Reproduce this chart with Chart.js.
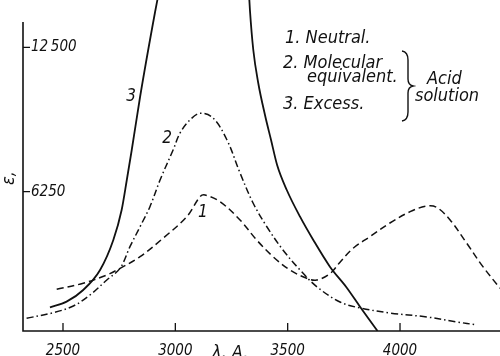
<!DOCTYPE html>
<html>
<head>
<meta charset="utf-8">
<script src="https://cdn.jsdelivr.net/npm/chart.js@4.4.1/dist/chart.umd.min.js"></script>
<style>
  html, body { margin: 0; padding: 0; background: #fff; }
  canvas { display: block; }
</style>
</head>
<body>
<canvas id="chart" width="500" height="356"></canvas>
<script>
// wavelength (A) / extinction values
const neutralL = [2472, 2590, 2695, 2754, 2843, 2945, 3051, 3110, 3132, 3199, 3288, 3362, 3435, 3510, 3585, 3629, 3688, 3733, 3791, 3866, 3955, 4045, 4119, 4163, 4223, 4297, 4369, 4445];
const neutralE = [2026, 2286, 2645, 2935, 3437, 4234, 5169, 6035, 6108, 5818, 5026, 4160, 3437, 2862, 2502, 2429, 2700, 3200, 3800, 4303, 4896, 5386, 5632, 5576, 5026, 4018, 3005, 2069];

const equivL = [2338, 2457, 2546, 2620, 2695, 2754, 2798, 2843, 2887, 2932, 2990, 3021, 3065, 3110, 3168, 3230, 3288, 3346, 3408, 3479, 3555, 3631, 3733, 3822, 3955, 4120, 4254, 4343];
const equivE = [771, 1013, 1303, 1779, 2429, 2935, 3870, 4736, 5602, 6758, 8056, 8792, 9355, 9645, 9442, 8489, 7061, 5762, 4723, 3727, 2862, 2126, 1476, 1217, 1000, 827, 611, 481];

// excess acid: goes off the top of the plate between the two branches
const excessL = [2442, 2516, 2590, 2665, 2724, 2761, 2784, 2806, 2843, 2909, 2925, 3100, 3328, 3332, 3347, 3369, 3399, 3426, 3453, 3496, 3555, 3614, 3688, 3763, 3822, 3900];
const excessE = [1247, 1490, 1996, 2862, 4160, 5459, 6758, 8056, 10351, 13987, 14800, null, 14800, 14117, 12385, 10957, 9572, 8489, 7407, 6325, 5169, 4160, 3005, 2096, 1273, 220];

const xTicks = [2500, 3000, 3500, 4000];
const yTicks = [6250, 12500];

const curveNames = ['1', '2', '3'];
const legendLines = ['1. Neutral.', '2. Molecular', 'equivalent.', '3. Excess.'];
const bracketText = ['Acid', 'solution'];

const pts = (xs, ys) => xs.map((v, i) => ({ x: v, y: ys[i] }));

const FAM = "'DejaVu Sans Condensed', 'DejaVu Sans'";
const ink = '#111';

const deco = {
  id: 'deco',
  afterDraw(chart) {
    const { ctx, chartArea: a, scales: { x, y } } = chart;
    ctx.save();
    ctx.strokeStyle = ink;
    ctx.fillStyle = ink;
    ctx.lineWidth = 1.6;

    // axes
    ctx.beginPath();
    ctx.moveTo(a.left, y.getPixelForValue(13600));
    ctx.lineTo(a.left, a.bottom);
    ctx.lineTo(a.right, a.bottom);
    ctx.stroke();

    // inward ticks
    ctx.lineWidth = 1.3;
    ctx.beginPath();
    xTicks.forEach(v => {
      const px = x.getPixelForValue(v);
      ctx.moveTo(px, a.bottom);
      ctx.lineTo(px, a.bottom - 8);
    });
    yTicks.forEach(v => {
      const py = y.getPixelForValue(v);
      ctx.moveTo(a.left, py);
      ctx.lineTo(a.left + 7, py);
    });
    ctx.stroke();

    // curve numbers
    const numAt = [[3123, 5330], [2963, 8530], [2803, 10390]];
    ctx.font = 'italic 17px ' + FAM;
    ctx.textAlign = 'center';
    ctx.textBaseline = 'middle';
    curveNames.forEach((t, i) => {
      ctx.fillText(t, x.getPixelForValue(numAt[i][0]), y.getPixelForValue(numAt[i][1]));
    });

    // legend block
    ctx.font = 'italic 18px ' + FAM;
    ctx.textAlign = 'left';
    ctx.textBaseline = 'alphabetic';
    const lx = [285, 283, 307, 283];
    const ly = [43, 68, 82, 109];
    legendLines.forEach((t, i) => ctx.fillText(t, lx[i], ly[i]));
    ctx.fillText(bracketText[0], 427, 84);
    ctx.fillText(bracketText[1], 415, 101);

    // curly bracket
    ctx.lineWidth = 1.4;
    ctx.beginPath();
    ctx.moveTo(402, 51);
    ctx.quadraticCurveTo(408, 52, 408, 60);
    ctx.lineTo(408, 79);
    ctx.quadraticCurveTo(408, 85, 413, 86);
    ctx.quadraticCurveTo(408, 87, 408, 93);
    ctx.lineTo(408, 112);
    ctx.quadraticCurveTo(408, 120, 402, 121);
    ctx.stroke();

    // axis titles
    ctx.font = 'italic 18px ' + FAM;
    ctx.fillText('\u03bb, A.', 212, 358);
    ctx.save();
    ctx.translate(14, 178);
    ctx.rotate(-Math.PI / 2);
    ctx.textAlign = 'center';
    ctx.fillText('\u03b5,', 0, 0);
    ctx.restore();

    ctx.restore();
  }
};

new Chart(document.getElementById('chart'), {
  type: 'line',
  data: {
    datasets: [
      {
        label: 'Neutral',
        data: pts(neutralL, neutralE),
        borderColor: ink,
        borderWidth: 1.5,
        borderDash: [7, 4],
        tension: 0.35
      },
      {
        label: 'Molecular equivalent',
        data: pts(equivL, equivE),
        borderColor: ink,
        borderWidth: 1.5,
        borderDash: [7, 3, 1.5, 3],
        tension: 0.35
      },
      {
        label: 'Excess',
        data: pts(excessL, excessE),
        borderColor: ink,
        borderWidth: 1.8,
        cubicInterpolationMode: 'monotone',
        spanGaps: false
      }
    ]
  },
  options: {
    responsive: false,
    animation: false,
    devicePixelRatio: 1,
    layout: { padding: 0 },
    elements: { point: { radius: 0 } },
    plugins: { legend: { display: false }, tooltip: { enabled: false } },
    scales: {
      x: {
        type: 'linear',
        min: 2322,
        max: 4445,
        afterBuildTicks: s => { s.ticks = xTicks.map(v => ({ value: v })); },
        afterFit: s => { s.height = 25; s.paddingLeft = 0; s.paddingRight = 0; },
        grid: { display: false },
        border: { display: false },
        ticks: { color: ink, padding: 3, font: { family: FAM, size: 15, style: 'italic' }, callback: v => String(v) }
      },
      y: {
        min: 220,
        max: 14550,
        afterBuildTicks: s => { s.ticks = yTicks.map(v => ({ value: v })); },
        afterFit: s => { s.width = 23; s.paddingTop = 0; s.paddingBottom = 0; },
        grid: { display: false },
        border: { display: false },
        ticks: {
          mirror: true,
          padding: 8,
          color: ink,
          font: { family: FAM, size: 15, style: 'italic' },
          callback: v => v >= 10000 ? String(v).replace(/(\d{3})$/, '\u2009$1') : String(v)
        }
      }
    }
  },
  plugins: [deco]
});
</script>
</body>
</html>
